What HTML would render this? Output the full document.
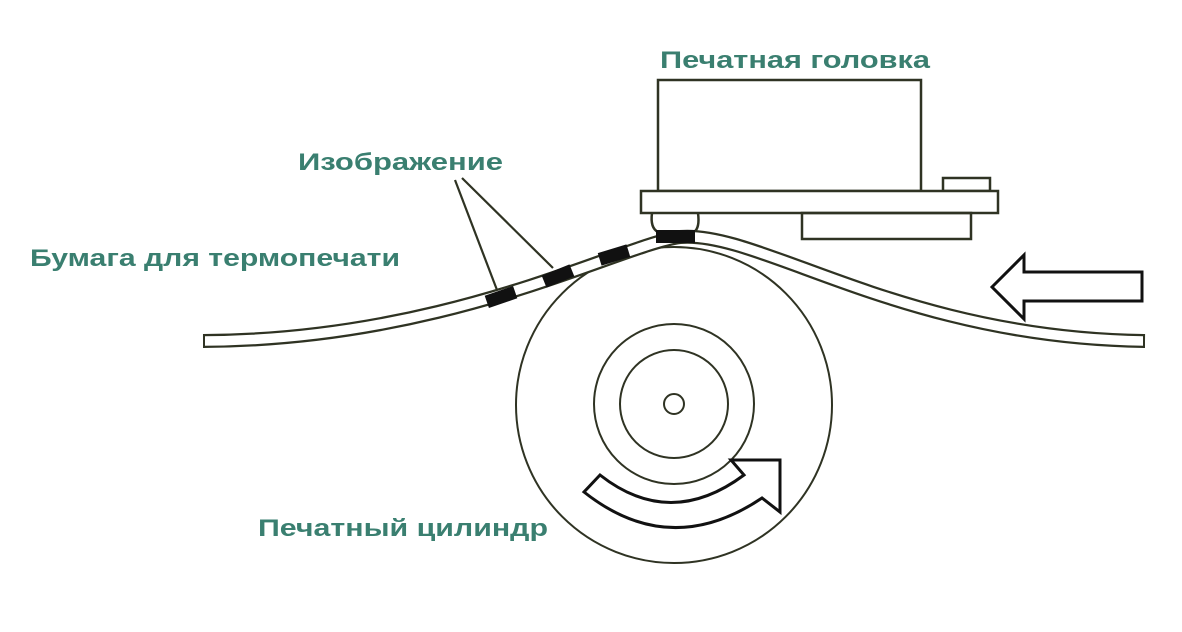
<!DOCTYPE html>
<html><head><meta charset="utf-8"><style>
html,body{margin:0;padding:0;background:#fff;}
svg{display:block;}
text{font-family:"Liberation Sans","DejaVu Sans",sans-serif;font-weight:bold;fill:#3a7f70;}
</style></head><body>
<svg width="1182" height="632" viewBox="0 0 1182 632" xmlns="http://www.w3.org/2000/svg">
<g fill="none" stroke="#2f3323" stroke-width="2.5">
<rect x="658" y="80" width="263" height="111"/>
<rect x="943" y="178" width="47" height="13"/>
<rect x="641" y="191" width="357" height="22" fill="#fff"/>
<rect x="802" y="213" width="169" height="26"/>
<path d="M652 213 Q650 228 658 232 M698 213 Q700 228 694 232"/>
<circle cx="674" cy="405" r="158" stroke-width="2"/>
<circle cx="674" cy="404" r="80" stroke-width="2"/>
<circle cx="674" cy="404" r="54" stroke-width="2"/>
<circle cx="674" cy="404" r="10" stroke-width="2"/>
</g>
<path d="M203 341 C450 340 620 245 680 237 C760 230 900 338 1145 341" fill="none" stroke="#2f3323" stroke-width="14"/>
<path d="M203 341 C450 340 620 245 680 237 C760 230 900 338 1145 341" fill="none" stroke="#fff" stroke-width="9.5"/>
<path d="M204 334 L204 348" stroke="#2f3323" stroke-width="2"/>
<path d="M1144 334 L1144 348" stroke="#2f3323" stroke-width="2"/>
<g fill="#111">
<rect x="-15" y="-6.5" width="30" height="13" transform="translate(501,297) rotate(-19)"/>
<rect x="-15" y="-6.5" width="30" height="13" transform="translate(558,276) rotate(-22)"/>
<rect x="-15" y="-6.5" width="30" height="13" transform="translate(614,255) rotate(-17)"/>
<rect x="656" y="230" width="39" height="13"/>
</g>
<g stroke="#2f3323" stroke-width="2.2">
<line x1="455" y1="180" x2="497" y2="290"/>
<line x1="462" y1="178" x2="553" y2="268"/>
</g>
<polygon points="992,287 1024,255 1024,272 1142,272 1142,301 1024,301 1024,319" fill="#fff" stroke="#111" stroke-width="3"/>
<path d="M600 475 L584 492 Q670 560 762 498 L780 512 L780 460 L731 460 L744 475 Q670 530 600 475 Z" fill="#fff" stroke="#111" stroke-width="3"/>
<text x="660" y="68" font-size="24" textLength="270" lengthAdjust="spacingAndGlyphs">Печатная головка</text>
<text x="298" y="170" font-size="24" textLength="205" lengthAdjust="spacingAndGlyphs">Изображение</text>
<text x="30" y="266" font-size="24" textLength="370" lengthAdjust="spacingAndGlyphs">Бумага для термопечати</text>
<text x="258" y="536" font-size="24" textLength="290" lengthAdjust="spacingAndGlyphs">Печатный цилиндр</text>
</svg>
</body></html>
